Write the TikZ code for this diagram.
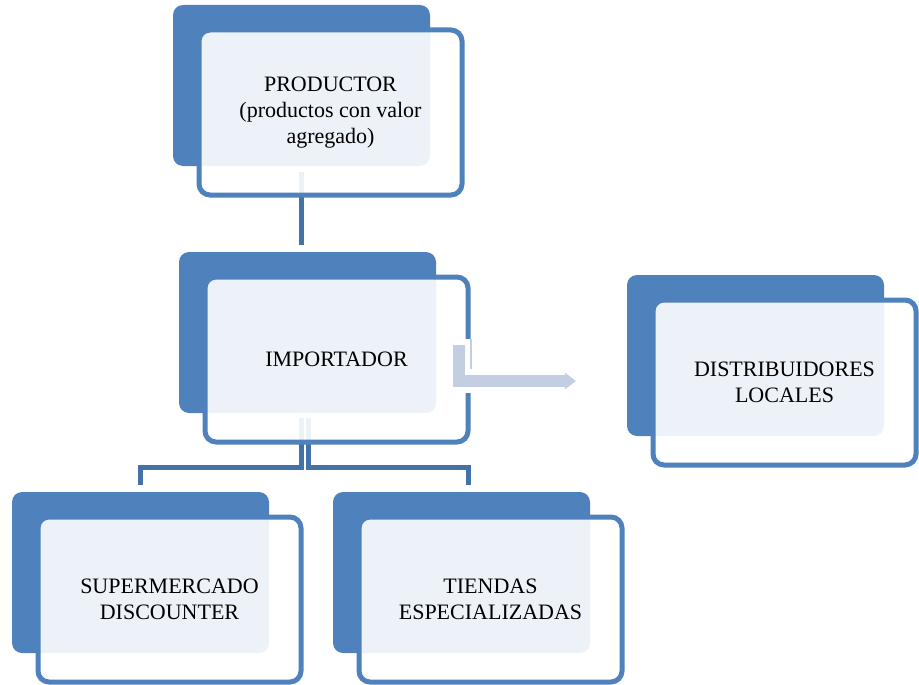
\documentclass[tikz,border=0pt]{standalone}
\usepackage{fontspec}
\setmainfont{Liberation Serif}
\usetikzlibrary{arrows.meta}
\definecolor{boxblue}{HTML}{4F81BD}
\definecolor{connblue}{HTML}{4472A8}
\definecolor{arrowblue}{HTML}{C3CEE3}
\tikzset{
 back/.style={rectangle, rounded corners=10pt, fill=boxblue, draw=none, minimum width=257pt, minimum height=161pt, inner sep=0pt, outer sep=0pt, anchor=north west},
 front/.style={rectangle, rounded corners=11pt, draw=boxblue, line width=5pt, fill=white, fill opacity=0.9, text opacity=1, minimum width=263pt, minimum height=165pt, inner sep=0pt, outer sep=0pt, align=center, font=\fontsize{22}{26}\selectfont},
 conn/.style={draw=connblue, line width=5pt},
 bigarrow/.style={draw=arrowblue, line width=12pt, -{Triangle[length=11pt,width=16pt]}}
}
\begin{document}
\begin{tikzpicture}[x=1pt,y=-1pt]
\useasboundingbox (0,0) rectangle (919,685);
% connector coordinates
\coordinate (pS) at (301,172);
\coordinate (iN) at (301,245);
\coordinate (iL) at (301,418);
\coordinate (iR) at (308,418);
\coordinate (bL) at (301,467);
\coordinate (bR) at (308,467);
\coordinate (sT) at (140,485);
\coordinate (tT) at (468,485);
\coordinate (aS) at (459,345);
\coordinate (aE) at (576,381);
% connectors
\draw[conn] (pS) -- (iN);
\draw[conn] (iL) -- (bL) -| (sT);
\draw[conn] (iR) -- (bR) -| (tT);
% back boxes
\node[back] (Pb) at (173,5) {};
\node[back] (Ib) at (179,252) {};
\node[back] (Db) at (627,275) {};
\node[back] (Sb) at (12,492) {};
\node[back] (Tb) at (333,492) {};
% front boxes
\node[front] (P) at (330.5,112.5) {PRODUCTOR\\(productos con valor\\agregado)};
\node[front] (I) at (336.5,359.5) {IMPORTADOR};
\node[front] (D) at (784.5,382.5) {DISTRIBUIDORES\\LOCALES};
\node[front] (S) at (169.5,599.5) {SUPERMERCADO\\DISCOUNTER};
\node[front] (T) at (490.5,599.5) {TIENDAS\\ESPECIALIZADAS};
% gap in importador border where arrow leaves
\fill[white] (464,339) rectangle (474,393);
\fill[arrowblue] (470,339) rectangle (472,369);
% arrow to distribuidores
\draw[bigarrow] (aS) |- (aE);
\end{tikzpicture}
\end{document}
